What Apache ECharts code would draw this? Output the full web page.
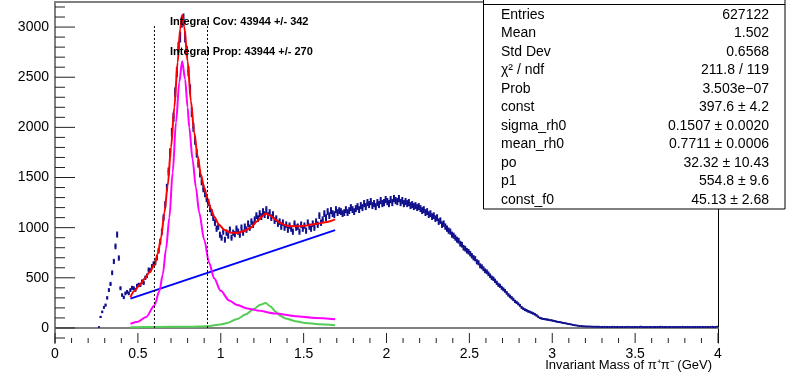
<!DOCTYPE html>
<html><head><meta charset="utf-8">
<script src="https://cdn.jsdelivr.net/npm/echarts@6/dist/echarts.min.js"></script>
<style>html,body{margin:0;padding:0;background:#fff}#c{width:789px;height:378px}</style>
</head><body><div id="c"></div>
<script>
// ---------- data ----------
const binStart = 0.26;
const binWidth = 0.01;
const counts = [
  10,110,160,205,
  228,300,378,439,550,663,813,931,697,396,
  328,305,345,360,345,378,400,396,380,420,
  430,429,462,450,500,520,579,575,612,640,
  650,700,770,860,960,1100,1230,1400,1560,1750,
  1950,2100,2350,2550,2800,2900,3050,3080,2900,2760,
  2560,2380,2150,2000,1870,1740,1640,1540,1460,1390,
  1340,1290,1250,1190,1150,1100,1050,990,1010,930,
  900,960,880,950,920,980,900,950,935,990,
  960,930,1000,950,1010,980,1040,1000,1060,1030,
  1080,1120,1090,1140,1110,1160,1130,1180,1120,1150,
  1100,1130,1070,1090,1040,1060,1010,1050,1000,1030,
  980,1020,990,960,1040,1000,1010,960,1030,990,
  1020,970,1050,1010,990,1040,1000,1060,1030,1120,
  1050,1080,1140,1100,1160,1120,1170,1140,1130,1180,
  1150,1170,1160,1140,1150,1180,1150,1170,1200,1180,
  1160,1190,1210,1180,1220,1200,1240,1210,1250,1230,
  1260,1220,1240,1210,1250,1230,1270,1240,1250,1280,
  1260,1240,1280,1250,1290,1270,1260,1290,1250,1270,
  1240,1260,1240,1250,1220,1230,1210,1220,1200,1210,
  1190,1170,1180,1150,1160,1130,1140,1110,1120,1090,
  1100,1060,1070,1030,1040,1010,990,970,960,930,
  920,900,880,870,840,830,800,790,770,760,
  740,720,700,690,660,650,620,610,590,570,
  560,540,520,500,490,470,450,430,420,400,
  385,370,350,330,315,300,285,265,255,240,
  225,205,192,182,175,166,160,152,145,136,
  125,112,100,95,90,88,85,82,78,76,
  72,68,64,60,58,55,50,48,45,40,
  38,35,30,28,25,22,20,19,18,16,
  15,14,14,13,12,12,11,12,11,10,
  10,11,9,10,10,9,11,10,9,10,
  9,10,10,9,10,11,9,10,9,10,
  10,9,10,11,10,9,10,9,10,10,
  9,10,9,10,10,11,10,9,10,9,
  10,10,9,10,9,10,10,9,11,10,
  9,10,10,9,10,9,10,10,9,10,
  10,9,10,10,9,10,11,10,9,12
];
const fitTotal = [[0.455,305],[0.48,370],[0.51,425],[0.54,490],[0.57,555],[0.60,630],[0.62,740],[0.64,900],[0.66,1150],[0.68,1420],[0.70,1800],[0.72,2200],[0.74,2650],[0.755,2980],[0.767,3120],[0.78,3000],[0.80,2660],[0.82,2260],[0.84,1950],[0.86,1720],[0.88,1530],[0.90,1400],[0.92,1290],[0.94,1190],[0.96,1110],[0.99,1030],[1.02,980],[1.06,950],[1.10,948],[1.14,965],[1.18,1000],[1.22,1065],[1.25,1115],[1.27,1140],[1.30,1120],[1.33,1080],[1.36,1048],[1.39,1025],[1.43,1014],[1.47,1014],[1.51,1020],[1.55,1031],[1.59,1041],[1.63,1054],[1.69,1082]];
const fitRho = [[0.455,40],[0.5,62],[0.55,110],[0.6,225],[0.63,370],[0.65,530],[0.67,790],[0.69,1100],[0.71,1550],[0.73,2050],[0.75,2450],[0.767,2660],[0.785,2480],[0.80,2200],[0.81,2000],[0.83,1680],[0.85,1400],[0.87,1150],[0.90,880],[0.93,650],[0.96,495],[1.0,370],[1.05,275],[1.1,228],[1.16,195],[1.22,175],[1.33,145],[1.45,117],[1.57,100],[1.69,86]];
const fitF0 = [[0.455,8],[0.6,10],[0.8,12],[0.92,18],[1.0,35],[1.04,50],[1.1,90],[1.15,135],[1.2,190],[1.24,232],[1.27,250],[1.3,215],[1.33,165],[1.36,120],[1.39,95],[1.45,68],[1.51,50],[1.59,37],[1.69,27]];
const fitBkg = [[0.455,292],[1.69,975]];
const windowEdges = [0.6, 0.92];
const windowTop = 3030;
const xMin = 0, xMax = 4, yMin = -150, yMax = 3250;
const yMajorTicks = [0,500,1000,1500,2000,2500,3000];
const yMinorTicks = [-100,100,200,300,400,600,700,800,900,1100,1200,1300,1400,1600,1700,1800,1900,2100,2200,2300,2400,2600,2700,2800,2900,3100,3200];
const xMajorTicks = [0,0.5,1,1.5,2,2.5,3,3.5,4];
const xMinorTicks = [0.1,0.2,0.3,0.4,0.6,0.7,0.8,0.9,1.1,1.2,1.3,1.4,1.6,1.7,1.8,1.9,2.1,2.2,2.3,2.4,2.6,2.7,2.8,2.9,3.1,3.2,3.3,3.4,3.6,3.7,3.8,3.9];
const xTitle = 'Invariant Mass of π⁺π⁻ (GeV)';
const integralTexts = ['Integral Cov: 43944 +/- 342', 'Integral Prop: 43944 +/- 270'];
const statsNames = ['Entries','Mean','Std Dev','χ² / ndf','Prob','const','sigma_rh0','mean_rh0','po','p1','const_f0'];
const statsValues = ['627122','1.502','0.6568','211.8 / 119','3.503e−07','397.6 ± 4.2','0.1507 ± 0.0020','0.7711 ± 0.0006','32.32 ± 10.43','554.8 ± 9.6','45.13 ± 2.68'];

// ---------- chart ----------
const FONT = '"Liberation Sans", Arial, Helvetica, sans-serif';
const histColor = '#10108c';
const histData = counts.map((c, i) => [binStart + i * binWidth, binStart + (i + 1) * binWidth, c]);

function tickSeries(values, axis, len) {
  return {
    type: 'custom', silent: true, clip: false, z: 5,
    data: values.map(v => [v]),
    encode: axis === 'x' ? { x: 0 } : { y: 0 },
    renderItem: function (params, api) {
      const v = api.value(0);
      let p, shape;
      if (axis === 'x') {
        p = api.coord([v, yMin]);
        shape = { x1: p[0], y1: p[1], x2: p[0], y2: p[1] - len };
      } else {
        p = api.coord([xMin, v]);
        shape = { x1: p[0], y1: p[1], x2: p[0] + len, y2: p[1] };
      }
      return { type: 'line', shape: shape, style: { stroke: '#222', lineWidth: 1 } };
    }
  };
}

const chart = echarts.init(document.getElementById('c'), null, { renderer: 'canvas' });
const rowY0 = 15, rowStep = 18.5;
const statsGraphics = [
  { type: 'rect', shape: { x: 483.5, y: -20, width: 301.5, height: 229 }, style: { fill: '#fff', stroke: '#000', lineWidth: 1 }, z: 100 },
  { type: 'line', shape: { x1: 483.5, y1: 4.5, x2: 785, y2: 4.5 }, style: { stroke: '#000', lineWidth: 1 }, z: 101 }
];
statsNames.forEach((n, i) => {
  statsGraphics.push({ type: 'text', x: 501, y: rowY0 + i * rowStep, z: 102,
    style: { text: n, font: '14px ' + FONT, fill: '#000', textAlign: 'left', textVerticalAlign: 'middle' } });
  statsGraphics.push({ type: 'text', x: 769, y: rowY0 + i * rowStep, z: 102,
    style: { text: statsValues[i], font: '14px ' + FONT, fill: '#000', textAlign: 'right', textVerticalAlign: 'middle' } });
});

const option = {
  animation: false,
  backgroundColor: '#fff',
  grid: { left: 55, right: 71, top: 2, bottom: 35, containLabel: false },
  xAxis: [{
    type: 'value', min: xMin, max: xMax, interval: 0.5,
    axisLine: { show: true, lineStyle: { color: '#808080', width: 2 } },
    axisTick: { show: false }, splitLine: { show: false },
    axisLabel: { color: '#000', fontSize: 14, fontFamily: FONT, margin: 4,
      formatter: v => String(v) }
  }, {
    type: 'value', position: 'top', min: xMin, max: xMax,
    axisLine: { show: true, onZero: false, lineStyle: { color: '#808080', width: 2 } },
    axisTick: { show: false }, axisLabel: { show: false }, splitLine: { show: false }
  }],
  yAxis: [{
    type: 'value', min: yMin, max: yMax, splitNumber: 7, minInterval: 500, maxInterval: 500,
    axisLine: { show: true, onZero: false, lineStyle: { color: '#808080', width: 2 } },
    axisTick: { show: false }, splitLine: { show: false },
    axisLabel: { color: '#000', fontSize: 14, fontFamily: FONT, margin: 6,
      showMinLabel: false, showMaxLabel: false, formatter: v => String(v) }
  }, {
    type: 'value', position: 'right', min: yMin, max: yMax,
    axisLine: { show: true, onZero: false, lineStyle: { color: '#000', width: 1 } },
    axisTick: { show: false }, axisLabel: { show: false }, splitLine: { show: false }
  }],
  series: [
    {
      type: 'custom', name: 'data', z: 3, clip: true,
      data: histData, encode: { x: [0, 1], y: 2 },
      renderItem: function (params, api) {
        const lo = api.value(0), hi = api.value(1), c = api.value(2);
        const e = Math.sqrt(c), xm = (lo + hi) / 2;
        const a = api.coord([lo, c]), b = api.coord([hi, c]);
        const t = api.coord([xm, c + e]), u = api.coord([xm, c - e]);
        return { type: 'group', children: [
          { type: 'line', shape: { x1: a[0], y1: a[1], x2: b[0], y2: b[1] }, style: { stroke: histColor, lineWidth: 2 } },
          { type: 'line', shape: { x1: t[0], y1: t[1], x2: u[0], y2: u[1] }, style: { stroke: histColor, lineWidth: 2 } }
        ] };
      }
    },
    { type: 'line', data: fitBkg, showSymbol: false, z: 4, lineStyle: { color: '#0000ff', width: 2 } },
    { type: 'line', data: fitF0, showSymbol: false, smooth: 0.3, smoothMonotone: 'x', z: 4, lineStyle: { color: '#55cc55', width: 2 } },
    { type: 'line', data: fitRho, showSymbol: false, smooth: 0.3, smoothMonotone: 'x', z: 4, lineStyle: { color: '#ff00ff', width: 2 } },
    { type: 'line', data: fitTotal, showSymbol: false, smooth: 0.3, smoothMonotone: 'x', z: 4, lineStyle: { color: '#ff0000', width: 2 } },
    ...windowEdges.map(x => ({ type: 'line', data: [[x, 0], [x, windowTop]], showSymbol: false, z: 4,
      lineStyle: { color: '#000', width: 1, type: [2, 2] } })),
    tickSeries(yMajorTicks, 'y', 20),
    tickSeries(yMinorTicks, 'y', 10),
    tickSeries(xMajorTicks, 'x', 10),
    tickSeries(xMinorTicks, 'x', 5)
  ],
  graphic: [
    { type: 'text', x: 170, y: 22, z: 50, style: { text: integralTexts[0], font: 'bold 11px ' + FONT, fill: '#000', textVerticalAlign: 'middle' } },
    { type: 'text', x: 170, y: 52, z: 50, style: { text: integralTexts[1], font: 'bold 11px ' + FONT, fill: '#000', textVerticalAlign: 'middle' } },
    { type: 'text', x: 712, y: 365, z: 50, style: { text: xTitle, font: '13px ' + FONT, fill: '#000', textAlign: 'right', textVerticalAlign: 'middle' } },
    ...statsGraphics
  ]
};
chart.setOption(option);
</script></body></html>
